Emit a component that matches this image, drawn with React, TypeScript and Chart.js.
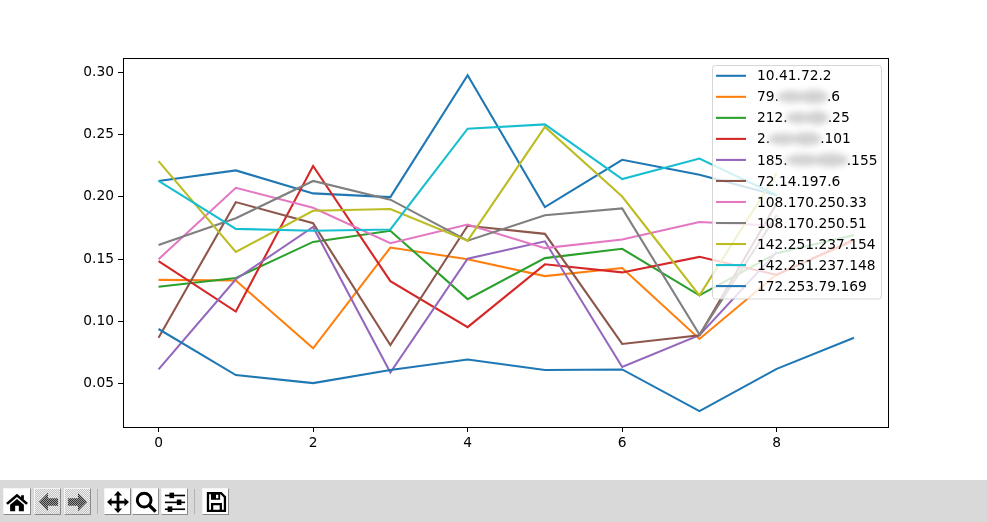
import React, { useEffect, useRef } from "react";
import { Chart, registerables } from "chart.js";

Chart.register(...registerables);

const seriesLabels = [
  "10.41.72.2", "79.|.6", "212.|.25", "2.|.101", "185.|.155", "72.14.197.6",
  "108.170.250.33", "108.170.250.51", "142.251.237.154", "142.251.237.148", "172.253.79.169",
];
const seriesColors = [
  "#1f77b4", "#ff7f0e", "#2ca02c", "#d62728", "#9467bd", "#8c564b",
  "#e377c2", "#7f7f7f", "#bcbd22", "#17becf", "#1f77b4",
];
const s0 = [0.2128, 0.2213, 0.2028, 0.1998, 0.2978, 0.1918, 0.2298, 0.2178, 0.2013];
const s1 = [0.1333, 0.1328, 0.0783, 0.1593, 0.1498, 0.1363, 0.1428, 0.0858, 0.1378, 0.1648];
const s2 = [0.1278, 0.1348, 0.1638, 0.1728, 0.1178, 0.1508, 0.1583, 0.1208, 0.1548, 0.1693];
const s3 = [0.1483, 0.1078, 0.2248, 0.1323, 0.0953, 0.1458, 0.1393, 0.1518, 0.1373, 0.1658];
const s4 = [0.0613, 0.1338, 0.1758, 0.0588, 0.1503, 0.1643, 0.0633, 0.0888, 0.1558];
const s5 = [0.0868, 0.1958, 0.1788, 0.0808, 0.1768, 0.1703, 0.0818, 0.0888, 0.1948];
const s6 = [0.1498, 0.2073, 0.1913, 0.1628, 0.1778, 0.1588, 0.1658, 0.1798, 0.1768];
const s7 = [0.1613, 0.1828, 0.2128, 0.1978, 0.1648, 0.1853, 0.1908, 0.0893, 0.1853];
const s8 = [0.2288, 0.1558, 0.1888, 0.1903, 0.1648, 0.2563, 0.2003, 0.1208, 0.2188];
const s9 = [0.2128, 0.1743, 0.1728, 0.1738, 0.2548, 0.2583, 0.2143, 0.2308, 0.2013];
const s10 = [0.0938, 0.0568, 0.0503, 0.0608, 0.0693, 0.0608, 0.0613, 0.0278, 0.0618, 0.0868];
const allSeries = [s0, s1, s2, s3, s4, s5, s6, s7, s8, s9, s10];
const xTicks = [0, 2, 4, 6, 8];
const yTicks = [0.05, 0.1, 0.15, 0.2, 0.25, 0.3];
const redactionWidths: Record<string, number> = { "79.": 48, "212.": 40, "2.": 50, "185.": 59 };

const FONT = '"DejaVu Sans"';
const FONT_SIZE = 13.8;

const frameAndLegend = {
  id: "frameAndLegend",
  afterDatasetsDraw(chart: any) {
    const { ctx, chartArea: a } = chart;
    ctx.save();
    ctx.strokeStyle = "#000";
    ctx.lineWidth = 1;
    ctx.strokeRect(Math.round(a.left) + 0.5, Math.round(a.top) + 0.5, Math.round(a.right - a.left), Math.round(a.bottom - a.top));

    const bx = 712.5, by = 65.5, bw = 169, bh = 233.5, rowGap = 21.03, firstY = 75.8;
    ctx.beginPath();
    ctx.roundRect(bx, by, bw, bh, 3);
    ctx.fillStyle = "rgba(255,255,255,0.8)";
    ctx.fill();
    ctx.strokeStyle = "rgba(204,204,204,0.8)";
    ctx.lineWidth = 1;
    ctx.stroke();

    ctx.font = `${FONT_SIZE}px ${FONT}`;
    ctx.textBaseline = "middle";
    seriesLabels.forEach((label, i) => {
      const y = firstY + i * rowGap;
      ctx.strokeStyle = seriesColors[i];
      ctx.lineWidth = 2.08;
      ctx.beginPath();
      ctx.moveTo(716, y);
      ctx.lineTo(746, y);
      ctx.stroke();

      ctx.fillStyle = "#000";
      const tx = 757;
      const parts = label.split("|");
      ctx.fillText(parts[0], tx, y + 1);
      if (parts.length > 1) {
        const pw = ctx.measureText(parts[0]).width;
        const w = redactionWidths[parts[0]];
        ctx.save();
        ctx.filter = "blur(3px)";
        ctx.fillStyle = "#d2d2d2";
        ctx.beginPath();
        ctx.ellipse(tx + pw + w * 0.26, y, w * 0.3, 6, 0, 0, Math.PI * 2);
        ctx.ellipse(tx + pw + w * 0.73, y, w * 0.3, 7, 0, 0, Math.PI * 2);
        ctx.fill();
        ctx.restore();
        ctx.fillStyle = "#000";
        ctx.fillText(parts[1], tx + pw + w, y + 1);
      }
    });
    ctx.restore();
  },
};

const Icon = ({ children, stipple }: { children: React.ReactNode; stipple?: boolean }) => (
  <svg width="22" height="22" viewBox="0 0 24 24" fill={stipple ? "url(#stip)" : "#000"}>
    {children}
  </svg>
);

const btn = (left: number, width: number, disabled?: boolean): React.CSSProperties => ({
  position: "absolute",
  left,
  top: 8,
  width,
  height: 27,
  boxSizing: "border-box",
  display: "flex",
  alignItems: "center",
  justifyContent: "center",
  background: disabled ? "repeating-conic-gradient(#c4c4c4 0% 25%, #eeeeee 0% 50%) 0 0 / 2px 2px" : "#fff",
  borderTop: "1px solid #f4f4f4",
  borderLeft: "1px solid #f4f4f4",
  borderRight: "1px solid #8a8a8a",
  borderBottom: "1px solid #8a8a8a",
});

const sep = (left: number): React.CSSProperties => ({
  position: "absolute",
  left,
  top: 9,
  width: 1,
  height: 25,
  background: "#b4b4b4",
});

export default function App() {
  const ref = useRef<HTMLCanvasElement>(null);
  useEffect(() => {
    document.body.style.margin = "0";
    const chart = new Chart(ref.current!, {
      type: "line",
      data: {
        datasets: allSeries.map((vals, i) => ({
          label: seriesLabels[i],
          data: vals.map((y, x) => ({ x, y })),
          borderColor: seriesColors[i],
          backgroundColor: seriesColors[i],
          borderWidth: 2.08,
          pointRadius: 0,
          tension: 0,
          fill: false,
          order: allSeries.length - i,
        })),
      },
      options: {
        animation: false,
        responsive: false,
        maintainAspectRatio: false,
        layout: { padding: { left: 0, top: 58, right: 99, bottom: 0 } },
        plugins: { legend: { display: false }, title: { display: false }, tooltip: { enabled: false } },
        scales: {
          x: {
            type: "linear",
            min: -0.46,
            max: 9.44,
            afterBuildTicks: (s: any) => { s.ticks = xTicks.map((value) => ({ value })); },
            afterFit: (s: any) => { s.height = 53; },
            grid: { drawOnChartArea: false, drawTicks: true, tickLength: 5, tickColor: "#000", tickWidth: 1 },
            border: { display: false },
            ticks: { color: "#000", font: { family: FONT, size: FONT_SIZE }, padding: 3, maxRotation: 0 },
          },
          y: {
            type: "linear",
            min: 0.01503,
            max: 0.31165,
            afterBuildTicks: (s: any) => { s.ticks = yTicks.map((value) => ({ value })); },
            afterFit: (s: any) => { s.width = 123; },
            grid: { drawOnChartArea: false, drawTicks: true, tickLength: 5, tickColor: "#000", tickWidth: 1 },
            border: { display: false },
            ticks: { color: "#000", font: { family: FONT, size: FONT_SIZE }, padding: 4, callback: (v: any) => Number(v).toFixed(2) },
          },
        },
      },
      plugins: [frameAndLegend],
    } as any);
    return () => chart.destroy();
  }, []);

  return (
    <div style={{ position: "relative", width: 987, height: 522, background: "#fff", overflow: "hidden" }}>
      <canvas ref={ref} width={987} height={480} style={{ display: "block" }} />
      <div style={{ position: "absolute", left: 0, top: 480, width: 987, height: 42, background: "#d9d9d9" }}>
        <svg width="0" height="0" style={{ position: "absolute" }}>
          <defs>
            <pattern id="stip" width="2.182" height="2.182" patternUnits="userSpaceOnUse">
              <rect width="1.091" height="1.091" fill="#000" />
              <rect x="1.091" y="1.091" width="1.091" height="1.091" fill="#000" />
            </pattern>
          </defs>
        </svg>
        <div style={btn(3, 28)}>
          <Icon>
            <path d="M12 3 L0 13 L2 15 L12 6.6 L22 15 L24 13 L19.5 9.2 V4.5 H16.5 V6.7 Z" />
            <path d="M4.5 15 L12 8.8 L19.5 15 V22 H14 V16 H10 V22 H4.5 Z" />
          </Icon>
        </div>
        <div style={btn(34, 27, true)}>
          <Icon stipple><path d="M2 12 L12 2 V8 H23 V16 H12 V22 Z" /></Icon>
        </div>
        <div style={btn(64, 27, true)}>
          <Icon stipple><path d="M22 12 L12 2 V8 H1 V16 H12 V22 Z" /></Icon>
        </div>
        <div style={sep(97)} />
        <div style={btn(104, 27)}>
          <Icon>
            <path d="M12 0 L16.5 5 H13.5 V10.5 H19 V7.5 L24 12 L19 16.5 V13.5 H13.5 V19 H16.5 L12 24 L7.5 19 H10.5 V13.5 H5 V16.5 L0 12 L5 7.5 V10.5 H10.5 V5 H7.5 Z" />
          </Icon>
        </div>
        <div style={btn(132, 27)}>
          <Icon>
            <circle cx="10" cy="10" r="7.5" fill="none" stroke="#000" strokeWidth="3.2" />
            <path d="M15 15 L22.5 22.5" stroke="#000" strokeWidth="3.6" />
          </Icon>
        </div>
        <div style={btn(161, 27)}>
          <Icon>
            <rect x="1" y="4" width="22" height="1.8" />
            <rect x="1" y="11.5" width="22" height="1.8" />
            <rect x="1" y="19" width="22" height="1.8" />
            <rect x="6" y="1.8" width="5" height="6" />
            <rect x="14" y="9.3" width="5" height="6" />
            <rect x="4" y="16.8" width="5" height="6" />
          </Icon>
        </div>
        <div style={sep(194)} />
        <div style={btn(202, 27)}>
          <Icon>
            <path fillRule="evenodd" d="M2 1 H18 L23 6 V23 H2 Z M4.5 3.5 V20.5 H6.5 V13 H18.5 V20.5 H20.5 V7 L17 3.5 H16.5 V9.5 H6.5 V3.5 Z M9 15.5 V20.5 H16 V15.5 Z M12 4 H14.5 V8 H12 Z" />
          </Icon>
        </div>
      </div>
    </div>
  );
}
